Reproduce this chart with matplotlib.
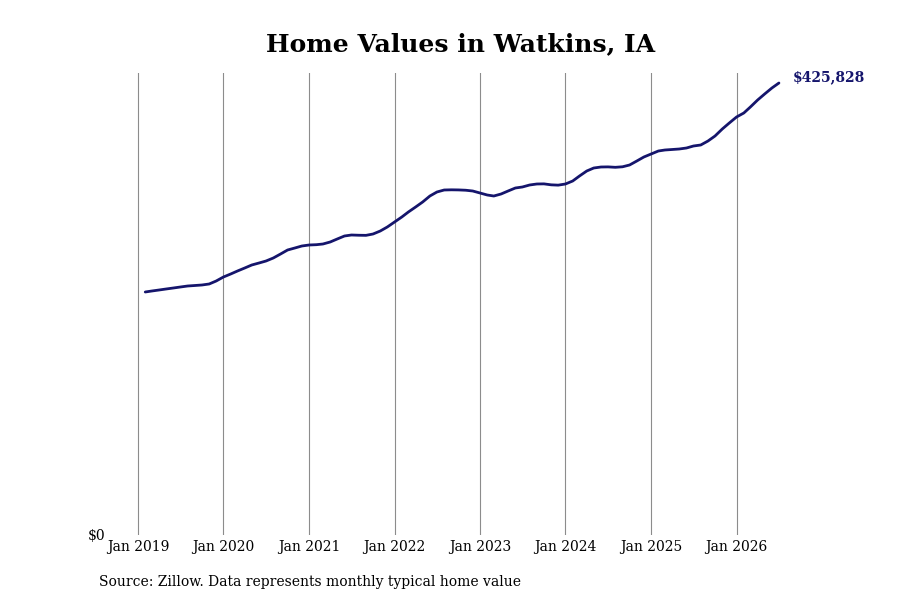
import numpy as np
import pandas as pd
import matplotlib
matplotlib.use("Agg")
import matplotlib.pyplot as plt
import matplotlib.dates as mdates

# monthly typical home values, Feb 2019 - Jul 2026
months = pd.date_range("2019-02-01", "2026-07-01", freq="MS")
values = [
    228930, 229870, 230815, 231760, 232700, 233640, 234580, 235050, 235525, 236470, 239290,
    243060, 245890, 248710, 251540, 254370, 256250, 258140, 260960, 264730, 268500, 270380, 272270,
    273210, 273500, 274150, 276040, 278860, 281690, 282630, 282400, 282300, 283570, 286400, 290170,
    294880, 299590, 304300, 309010, 313720, 319370, 323140, 325030, 325200, 325100, 324800, 324080,
    322200, 320310, 319370, 321260, 324080, 326910, 327850, 329740, 330680, 330800, 329900, 329600,
    330680, 333500, 338210, 342920, 345750, 346690, 346800, 346400, 346900, 348580, 352350, 356110,
    358940, 361770, 362710, 363180, 363650, 364590, 366480, 367420, 371190, 375900, 382490, 388150,
    393800, 397570, 403220, 409810, 415470, 421120, 425828,
]
year_ticks = pd.date_range("2019-01-01", "2026-01-01", freq="YS")
tick_labels = [d.strftime("Jan %Y") for d in year_ticks]

plt.rcParams["font.family"] = "DejaVu Serif"

fig = plt.figure(figsize=(9, 6), dpi=100)
ax = fig.add_axes([110 / 900, 65 / 600, 690 / 900, 462 / 600])

line_color = "#15156c"
ax.plot(months, values, color=line_color, linewidth=2.0, solid_capstyle="round")

# x range: about 85.5 px per year
days_per_px = 365.25 / 85.5
x0 = mdates.date2num(pd.Timestamp("2019-01-01"))
ax.set_xlim(x0 - 28 * days_per_px, x0 + 662 * days_per_px)
ax.set_ylim(0, 435250)

ax.set_xticks(year_ticks)
ax.set_xticklabels(tick_labels, fontsize=10)
ax.set_yticks([0])
ax.set_yticklabels(["$0"], fontsize=10)
ax.tick_params(axis="both", length=0, pad=3)
ax.tick_params(axis="x", pad=3.5)
ax.grid(axis="x", color="#8c8c8c", linewidth=0.8)
ax.set_axisbelow(True)
for s in ax.spines.values():
    s.set_visible(False)

ax.annotate(f"${values[-1]:,}", xy=(months[-1], values[-1]), xytext=(10, 4),
            textcoords="offset points", fontsize=10, fontweight="bold",
            color=line_color, va="center", ha="left", annotation_clip=False)

fig.text(0.512, 0.927, "Home Values in Watkins, IA", ha="center", va="center",
         fontsize=18, fontweight="bold")
fig.text(99 / 900, 1 - 582 / 600, "Source: Zillow. Data represents monthly typical home value",
         ha="left", va="center", fontsize=10)

fig.savefig("out.png", dpi=100)
